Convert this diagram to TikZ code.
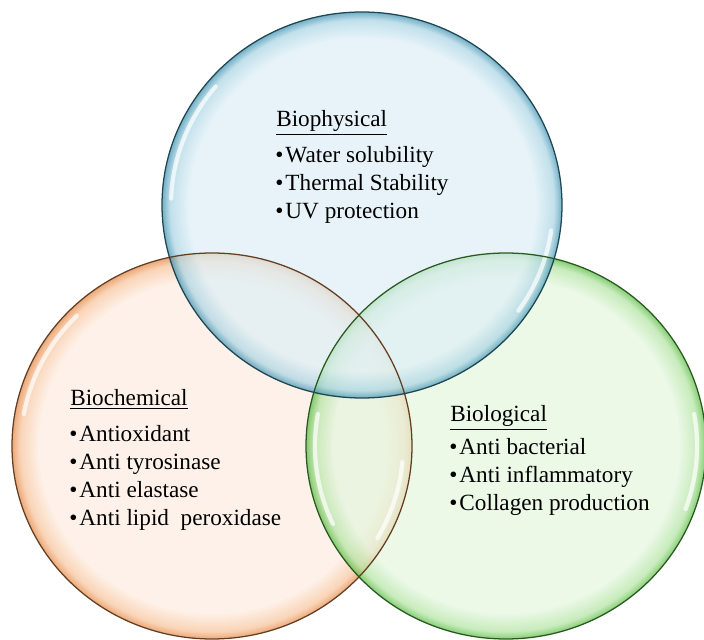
\documentclass[tikz,border=0pt]{standalone}
\usepackage{fontspec}
\setmainfont{Liberation Serif}
\usetikzlibrary{calc}

% glass colours
\definecolor{bluein}{RGB}{222,239,246}
\definecolor{bluemid}{RGB}{170,212,228}
\definecolor{blueedge}{RGB}{62,145,175}
\definecolor{blueline}{RGB}{30,70,84}
\definecolor{orangein}{RGB}{253,236,224}
\definecolor{orangemid}{RGB}{247,196,155}
\definecolor{orangeedge}{RGB}{228,135,68}
\definecolor{orangeline}{RGB}{100,62,34}
\definecolor{greenin}{RGB}{228,246,222}
\definecolor{greenmid}{RGB}{178,228,162}
\definecolor{greenedge}{RGB}{88,186,64}
\definecolor{greenline}{RGB}{40,90,32}

\pgfdeclareradialshading{blueglass}{\pgfpoint{0bp}{0bp}}{color(0bp)=(bluein); color(21.6bp)=(bluein); color(24bp)=(bluemid); color(25bp)=(blueedge); color(50bp)=(blueedge)}
\pgfdeclareradialshading{orangeglass}{\pgfpoint{0bp}{0bp}}{color(0bp)=(orangein); color(21.6bp)=(orangein); color(24bp)=(orangemid); color(25bp)=(orangeedge); color(50bp)=(orangeedge)}
\pgfdeclareradialshading{greenglass}{\pgfpoint{0bp}{0bp}}{color(0bp)=(greenin); color(21.6bp)=(greenin); color(24bp)=(greenmid); color(25bp)=(greenedge); color(50bp)=(greenedge)}

\tikzset{
  txt/.style={anchor=base west, inner sep=0pt, font=\fontsize{16.5}{19}\selectfont},
  gloss/.style={white, line width=3pt, line cap=round, opacity=0.7}
}

\begin{document}
\begin{tikzpicture}[x=0.025cm,y=0.025cm]
\useasboundingbox (0,0) rectangle (704,639);
\pgfmathsetmacro{\rx}{200}
\pgfmathsetmacro{\ry}{193}

% the three glass circles
\foreach \cx/\cy/\nm in {212/193/orange, 506/193/green, 362/434/blue} {
\shade[shading=\nm glass, fill opacity=0.72] (\cx,\cy) ellipse [x radius=\rx, y radius=\ry];
}

% highlights
\foreach \cx/\cy/\a/\b in {212/193/135/170, 212/193/-5/-30, 506/193/170/205, 506/193/10/-20,
  362/434/140/178, 362/434/-8/-35} {
\draw[gloss] ($(\cx,\cy)+(\a:{0.955*\rx} and {0.955*\ry})$)
  arc [start angle=\a, end angle=\b, x radius={0.955*\rx}, y radius={0.955*\ry}];
}

% outlines
\foreach \cx/\cy/\nm in {212/193/orange, 506/193/green, 362/434/blue} {
\draw[\nm line, line width=0.9pt] (\cx,\cy) ellipse [x radius=\rx, y radius=\ry];
}

% Biophysical
\node[txt] (physHead) at (276,512) {\underline{Biophysical}};
\foreach \t [count=\i] in {Water solubility, Thermal Stability, UV protection}
\node[txt] (phys\i) at (275,{476-(\i-1)*28}) {\textbullet\hspace{1.5pt}\t};

% Biochemical
\node[txt] (chemHead) at (70,233) {\underline{Biochemical}};
\foreach \t [count=\i] in {Antioxidant, Anti tyrosinase, Anti elastase, Anti lipid\ \ peroxidase}
\node[txt] (chem\i) at (69,{197-(\i-1)*27.7}) {\textbullet\hspace{1.5pt}\t};

% Biological
\node[txt] (bioHead) at (450,217) {\underline{Biological}};
\foreach \t [count=\i] in {Anti bacterial, Anti inflammatory, Collagen production}
\node[txt] (bio\i) at (449,{184-(\i-1)*27.5}) {\textbullet\hspace{1.5pt}\t};

\end{tikzpicture}
\end{document}
